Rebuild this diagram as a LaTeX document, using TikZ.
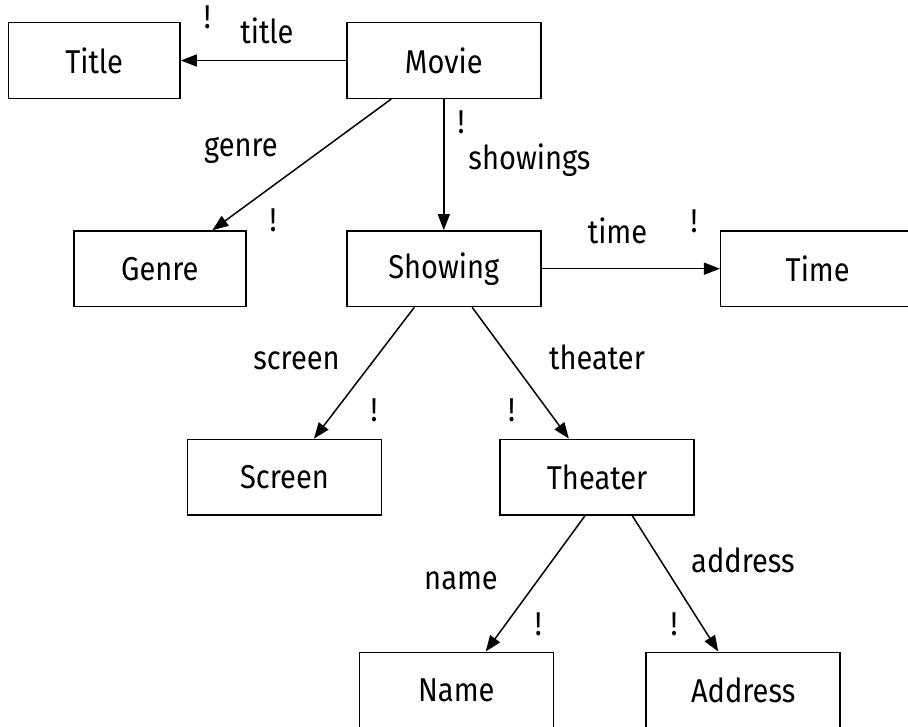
\documentclass[tikz,border=0pt]{standalone}
\usepackage{fontspec}
\setmainfont{Fira Sans}[FakeStretch=0.88]
\usetikzlibrary{arrows.meta}
\tikzset{
  entity/.style={draw, line width=1.5pt, rectangle, inner sep=0pt,
    minimum width=194pt, minimum height=75.6pt, font=\fontsize{33}{38}\selectfont},
  narrowentity/.style={entity, minimum width=171.7pt},
  rel/.style={line width=1.5pt, -{Triangle[length=16pt,width=12pt]}},
  lbl/.style={anchor=base, inner sep=0pt, font=\fontsize{33}{38}\selectfont},
  bang/.style={anchor=base, inner sep=0pt, font=\fontsize{33}{38}\selectfont}
}
\begin{document}
\begin{tikzpicture}[x=1pt, y=-1pt]
  \useasboundingbox (0,0) rectangle (908,727);
  % entity boxes
  \node[narrowentity] (title)   at (94.2,60.5)   {Title};
  \node[entity]       (movie)   at (443.8,60.5)  {Movie};
  \node[narrowentity] (genre)   at (159.9,268.8) {Genre};
  \node[entity]       (showing) at (443.8,268.7) {Showing};
  \node[entity]       (time)    at (817.7,268.7) {Time};
  \node[entity]       (screen)  at (284.5,477.2) {Screen};
  \node[entity]       (theater) at (597.2,477.2) {Theater};
  \node[entity]       (name)    at (456.3,690.1) {Name};
  \node[entity]       (address) at (743.2,690.1) {Address};
  % relations
  \draw[rel] (movie.west) -- (title.east);
  \draw[rel] (movie) -- (genre);
  \draw[rel] (movie) -- (showing);
  \draw[rel] (showing) -- (time);
  \draw[rel] (showing) -- (screen);
  \draw[rel] (showing) -- (theater);
  \draw[rel] ([xshift=-12.2pt]theater.south) -- ([xshift=29.4pt]name.north);
  \draw[rel] ([xshift=35.1pt]theater.south) -- ([xshift=-24.9pt]address.north);
  % relation names
  \node[lbl] (ltitle)    at (267,43.3)  {title};
  \node[lbl] (lgenre)    at (241,156.7) {genre};
  \node[lbl] (lshowings) at (529.5,170) {showings};
  \node[lbl] (ltime)     at (617.5,243.3) {time};
  \node[lbl] (lscreen)   at (296.5,370) {screen};
  \node[lbl] (ltheater)  at (597,370)   {theater};
  \node[lbl] (lname)     at (461,589.3) {name};
  \node[lbl] (laddress)  at (743,572.7) {address};
  % mandatory marks
  \node[bang] (btitle)    at (207.3,28.3) {!};
  \node[bang] (bgenre)    at (273,232)    {!};
  \node[bang] (bshowings) at (461,134)    {!};
  \node[bang] (btime)     at (694,233)    {!};
  \node[bang] (bscreen)   at (374,421.7)  {!};
  \node[bang] (btheater)  at (511.7,421.7) {!};
  \node[bang] (bname)     at (538.3,635)  {!};
  \node[bang] (baddress)  at (674,635)    {!};
\end{tikzpicture}
\end{document}
